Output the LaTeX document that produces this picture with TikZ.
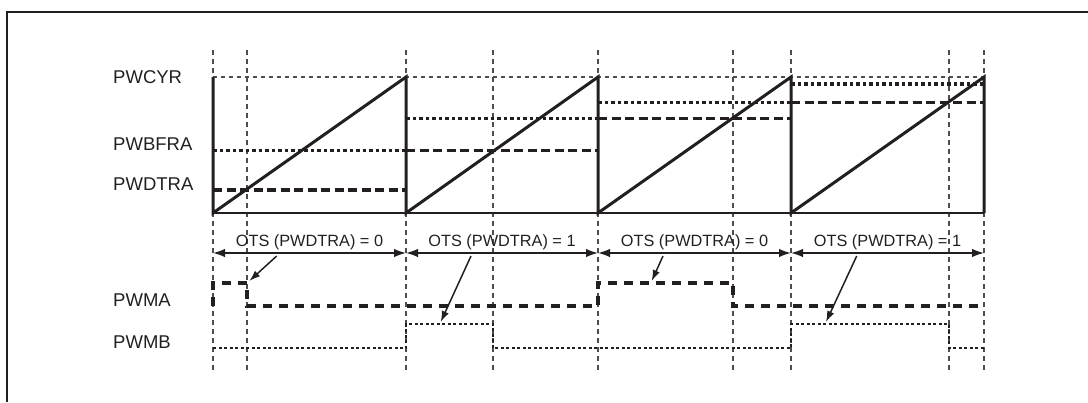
\documentclass[tikz,border=0pt]{standalone}
\usepackage{fontspec}
\setmainfont{Liberation Sans}
\usetikzlibrary{arrows.meta}
\definecolor{ink}{HTML}{231F20}
\definecolor{guide}{HTML}{4D4D4D}
\begin{document}
\begin{tikzpicture}[x=1pt,y=-1pt,
  saw/.style={ink, line width=3pt, line join=miter},
  base/.style={ink, line width=2pt},
  guideline/.style={guide, line width=1.4pt, dash pattern=on 5pt off 4pt},
  cyrline/.style={guide, line width=1.4pt, dash pattern=on 4pt off 4pt},
  dtrline/.style={ink, line width=3.2pt, dash pattern=on 9pt off 4.5pt},
  bfrline/.style={ink, line width=3.2pt, dash pattern=on 3.5pt off 3pt},
  pwmaline/.style={ink, line width=3.2pt, dash pattern=on 9pt off 7pt},
  pwmbline/.style={ink, line width=2.8pt, dash pattern=on 3pt off 2.5pt},
  dim/.style={ink, line width=1.5pt, {Latex[length=12pt,width=8.5pt]}-{Latex[length=12pt,width=8.5pt]}},
  pointer/.style={ink, line width=1.5pt, -{Latex[length=11pt,width=7.5pt]}},
  lbl/.style={font=\fontsize{18.5}{20}\selectfont, anchor=base west, inner sep=0pt, text=ink},
  ots/.style={font=\fontsize{16.3}{20}\selectfont, anchor=base, inner sep=0pt, text=ink}
]
\useasboundingbox (0,0) rectangle (1088,402);
% frame (top and left)
\draw[ink, line width=2.2pt] (7,402) -- (7,12) -- (1088,12);

% vertical guide lines
\foreach \x in {213,247,406,493,598,733,791,949,984}
  \draw[guideline] (\x,50) -- (\x,370);

% PWCYR level
\draw[cyrline] (213,77) -- (984,77);

% compare levels
\draw[bfrline] (213,150.7) -- (406,150.7);
\draw[dtrline] (213,190) -- (406,190);
\draw[bfrline] (406,118.3) -- (598,118.3);
\draw[dtrline] (406,150.7) -- (598,150.7);
\draw[bfrline] (598,102.3) -- (791,102.3);
\draw[dtrline] (598,118.3) -- (791,118.3);
\draw[bfrline] (791,84) -- (984,84);
\draw[dtrline] (791,102.3) -- (984,102.3);

% baseline
\draw[base] (213,213) -- (984,213);

% sawtooth
\draw[saw] (213,77) -- (213,213) -- (406,77) -- (406,213) -- (598,77) -- (598,213) -- (791,77) -- (791,213) -- (984,77) -- (984,213);

% labels
\node[lbl] (cyr) at (113,83.3) {PWCYR};
\node[lbl] (bfr) at (113,150) {PWBFRA};
\node[lbl] (dtr) at (113,190) {PWDTRA};
\node[lbl] (pwma) at (113,306) {PWMA};
\node[lbl] (pwmb) at (113,348.3) {PWMB};

% OTS dimension arrows
\coordinate (t0) at (213,253);
\coordinate (t1) at (406,253);
\coordinate (t2) at (598,253);
\coordinate (t3) at (791,253);
\coordinate (t4) at (984,253);
\draw[dim] (t0) -- (t1);
\draw[dim] (t1) -- (t2);
\draw[dim] (t2) -- (t3);
\draw[dim] (t3) -- (t4);
\node[ots] (o1) at (309.5,246.7) {OTS (PWDTRA) = 0};
\node[ots] (o2) at (502,246.7) {OTS (PWDTRA) = 1};
\node[ots] (o3) at (694.5,246.7) {OTS (PWDTRA) = 0};
\node[ots] (o4) at (887.5,246.7) {OTS (PWDTRA) = 1};

% waveforms
\draw[pwmaline] (213,306) -- (213,283) -- (247,283) -- (247,306) -- (598,306) -- (598,283) -- (733,283) -- (733,306) -- (984,306);
\draw[pwmbline] (213,348) -- (406,348) -- (406,324) -- (493,324) -- (493,348) -- (791,348) -- (791,324) -- (949,324) -- (949,348) -- (984,348);

% pointers
\coordinate (p1s) at (276.7,256);
\coordinate (p1e) at (249.3,281);
\coordinate (p2s) at (471,256);
\coordinate (p2e) at (440.7,322);
\coordinate (p3s) at (663,256);
\coordinate (p3e) at (651.7,281);
\coordinate (p4s) at (856.7,256);
\coordinate (p4e) at (826,322);
\draw[pointer] (p1s) -- (p1e);
\draw[pointer] (p2s) -- (p2e);
\draw[pointer] (p3s) -- (p3e);
\draw[pointer] (p4s) -- (p4e);
\end{tikzpicture}
\end{document}
